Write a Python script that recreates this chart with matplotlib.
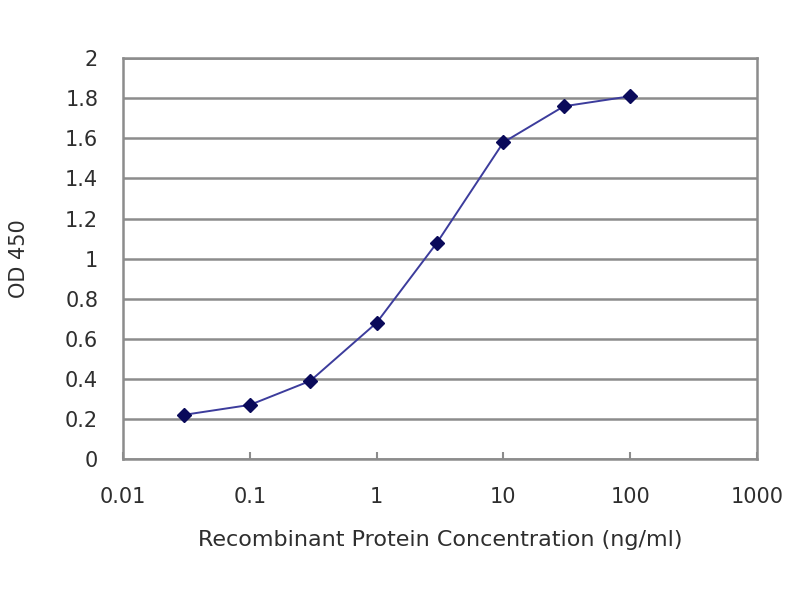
import matplotlib
matplotlib.use("Agg")
import matplotlib.pyplot as plt

# concentration (ng/ml) and OD 450 readings
conc = [0.03, 0.1, 0.3, 1, 3, 10, 30, 100]
od450 = [0.22, 0.27, 0.39, 0.68, 1.08, 1.58, 1.76, 1.81]

x_ticks = [0.01, 0.1, 1, 10, 100, 1000]
x_labels = ["0.01", "0.1", "1", "10", "100", "1000"]
y_ticks = [0, 0.2, 0.4, 0.6, 0.8, 1, 1.2, 1.4, 1.6, 1.8, 2]
y_labels = ["0", "0.2", "0.4", "0.6", "0.8", "1", "1.2", "1.4", "1.6", "1.8", "2"]

plt.rcParams["font.family"] = ["DejaVu Sans"]
text_color = "#2e2e2e"

fig = plt.figure(figsize=(8, 6), dpi=100)
ax = fig.add_axes([0.154, 0.235, 0.792, 0.668])

ax.plot(conc, od450, color="#3c3c9c", linewidth=1.4, marker="D",
        markersize=7, markerfacecolor="#0a0a5a", markeredgecolor="#0a0a5a", zorder=3)

ax.set_xscale("log")
ax.set_xlim(0.01, 1000)
ax.set_ylim(0, 2)
ax.set_xticks(x_ticks)
ax.set_xticklabels(x_labels)
ax.minorticks_off()
ax.set_yticks(y_ticks)
ax.set_yticklabels(y_labels)

ax.grid(axis="y", color="#8c8c8c", linewidth=1.8)
ax.set_axisbelow(True)
for s in ax.spines.values():
    s.set_color("#8c8c8c")
    s.set_linewidth(1.8)

ax.tick_params(axis="x", direction="in", length=5, color="#8c8c8c", width=1.5,
               labelsize=15, labelcolor=text_color, pad=20)
ax.tick_params(axis="y", length=0, labelsize=15, labelcolor=text_color, pad=18)

ax.set_xlabel("Recombinant Protein Concentration (ng/ml)", fontsize=16,
              color=text_color, labelpad=17)
ax.set_ylabel("OD 450", fontsize=15, color=text_color, labelpad=26)

fig.savefig("out.png", dpi=100)
